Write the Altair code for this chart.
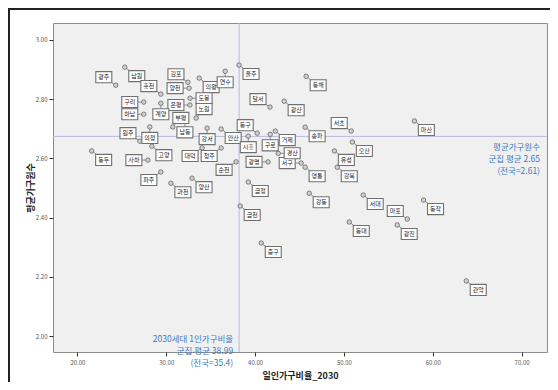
import altair as alt
import pandas as pd

# ---- data ----
names = ["광주", "남원", "홍천", "구리", "하남", "계양", "김포", "양천", "은평", "부평",
         "의왕", "도봉", "노원", "연수", "울주", "달서", "동해", "광산", "서초", "마산",
         "송파", "거제", "구로", "동구", "시흥", "안산", "강서", "남동", "대덕", "청주",
         "순천", "광명", "금정", "동두", "의정", "원주", "사하", "고양", "파주", "과천",
         "양산", "금천", "중구", "강동", "경산", "서구", "유성", "오산", "강북", "서대",
         "마포", "동작", "동대", "광진", "관악", "영통"]
one_person_ratio = [24.32, 25.33, 29.39, 27.47, 27.47, 29.39, 32.44, 32.57, 32.66, 30.74,
                    33.70, 32.68, 33.36, 36.63, 38.19, 41.68, 45.75, 43.27, 50.82, 57.93,
                    45.63, 42.27, 41.70, 40.24, 39.23, 36.18, 34.60, 32.10, 34.03, 36.18,
                    37.86, 41.46, 39.23, 21.60, 28.15, 27.04, 27.93, 28.38, 29.39, 30.52,
                    32.90, 38.32, 40.69, 46.09, 42.60, 45.19, 48.92, 50.95, 49.25, 52.17,
                    57.13, 58.96, 50.60, 56.00, 63.77, 45.63]
avg_household = [2.847, 2.908, 2.817, 2.790, 2.749, 2.786, 2.857, 2.837, 2.780, 2.706,
                 2.871, 2.803, 2.736, 2.894, 2.915, 2.773, 2.877, 2.793, 2.692, 2.726,
                 2.705, 2.692, 2.681, 2.685, 2.675, 2.699, 2.702, 2.725, 2.635, 2.635,
                 2.588, 2.588, 2.520, 2.625, 2.706, 2.658, 2.594, 2.641, 2.554, 2.516,
                 2.533, 2.439, 2.314, 2.482, 2.617, 2.584, 2.625, 2.655, 2.570, 2.476,
                 2.395, 2.459, 2.385, 2.375, 2.186, 2.570]

# which side of its point each label box sits on (as in the reference)
label_se = ["남원", "의왕", "울주", "동해", "광산", "마산", "송파", "거제", "안산", "금정",
            "동두", "고양", "과천", "양산", "금천", "중구", "강동", "유성", "오산", "강북",
            "서대", "동작", "동대", "광진", "관악", "영통"]
label_nw = ["광주", "홍천", "김포", "달서", "서초", "동구", "마포", "원주"]
label_w = ["구리", "하남", "양천", "은평", "광명", "사하", "서구"]
label_e = ["도봉", "경산"]
label_s = ["계양", "연수", "구로", "시흥", "강서", "남동", "의정"]
label_sw = ["대덕", "청주", "순천", "파주"]
label_ne = ["부평", "노원"]

mean_line_x = [38.2]
mean_line_y = [2.674]
annot_right = ["평균가구원수", "군집 평균 2.65", "(전국=2.61)"]
annot_bottom = ["2030세대 1인가구비율", "군집 평균 38.99", "(전국=35.4)"]
x_ticks = [20, 30, 40, 50, 60, 70]
y_ticks = [2.0, 2.2, 2.4, 2.6, 2.8, 3.0]
x_domain = [17.25, 72.86]
y_domain = [1.946, 3.057]

FONT = "Noto Sans CJK KR"

df = pd.DataFrame({"name": names, "x": one_person_ratio, "y": avg_household})

xs = alt.Scale(domain=x_domain, nice=False, zero=False)
ys = alt.Scale(domain=y_domain, nice=False, zero=False)

x_main = alt.X("x:Q", scale=xs, title="일인가구비율_2030",
               axis=alt.Axis(values=x_ticks, format=".2f", grid=False, domain=False,
                             tickSize=4, tickColor="#333", labelFontSize=6,
                             labelColor="#555", labelPadding=3, titleFontSize=9,
                             titleFontWeight="bold", titleColor="#222", titlePadding=6,
                             titleFont=FONT, labelFont=FONT))
y_main = alt.Y("y:Q", scale=ys, title="평균가구원수",
               axis=alt.Axis(values=y_ticks, format=".2f", grid=False, domain=False,
                             tickSize=4, tickColor="#333", labelFontSize=6,
                             labelColor="#555", labelPadding=2, titleFontSize=9,
                             titleFontWeight="bold", titleColor="#222", titlePadding=0,
                             titleFont=FONT, labelFont=FONT))
x_plain = alt.X("x:Q", scale=xs)
y_plain = alt.Y("y:Q", scale=ys)

base = alt.Chart(df)

# invisible layer that carries the axes
axes_layer = base.mark_point(opacity=0).encode(x=x_main, y=y_main)

points = base.mark_point(shape="circle", size=20, filled=True, fill="#d0d0d0",
                         stroke="#666", strokeWidth=0.8, opacity=1).encode(x=x_plain, y=y_plain)


def label_layers(group, dx, dy):
    sub = base.transform_filter(alt.FieldOneOfPredicate(field="name", oneOf=group))
    conn = sub.mark_rule(color="#777", strokeWidth=0.8,
                         x2Offset=dx * 0.55, y2Offset=dy * 0.55).encode(
        x=x_plain, y=y_plain, x2="x:Q", y2="y:Q")
    box = sub.mark_point(shape="M-1,-0.69L1,-0.69L1,0.69L-1,0.69Z", size=256, filled=True,
                         fill="white", stroke="#707070", strokeWidth=1.1, opacity=1,
                         xOffset=dx, yOffset=dy).encode(x=x_plain, y=y_plain)
    txt = sub.mark_text(font=FONT, fontSize=6, color="#222", dx=dx, dy=dy,
                        align="center", baseline="middle").encode(
        x=x_plain, y=y_plain, text="name:N")
    return [conn, box, txt]


groups = [(label_se, 12, 9), (label_nw, -12, -8), (label_w, -14, 0), (label_e, 14, 0),
          (label_s, 0, 11), (label_sw, -12, 8), (label_ne, 8, -9)]
conns, boxes, texts = [], [], []
for g, dx, dy in groups:
    c, b, t = label_layers(g, dx, dy)
    conns.append(c)
    boxes.append(b)
    texts.append(t)

vline = alt.Chart(pd.DataFrame({"x": mean_line_x})).mark_rule(
    color="#b9b9dc", strokeWidth=1).encode(x=x_plain)
hline = alt.Chart(pd.DataFrame({"y": mean_line_y})).mark_rule(
    color="#b9b9dc", strokeWidth=1).encode(y=y_plain)

ann_r = alt.Chart(pd.DataFrame({"x": [x_domain[1]], "y": mean_line_y,
                                "t": ["\n".join(annot_right)]})).mark_text(
    font=FONT, fontSize=8.5, color="#3a7cc4", align="right", baseline="top",
    lineBreak="\n", lineHeight=12, dx=-7, dy=7).encode(x=x_plain, y=y_plain, text="t:N")

ann_b = alt.Chart(pd.DataFrame({"x": mean_line_x, "y": [y_domain[0]],
                                "t": ["\n".join(annot_bottom)]})).mark_text(
    font=FONT, fontSize=8.5, color="#3a7cc4", align="right", baseline="bottom",
    lineBreak="\n", lineHeight=12, dx=-6, dy=-8).encode(x=x_plain, y=y_plain, text="t:N")

frame_df = pd.DataFrame({"k": [0]})
frame_left = alt.Chart(frame_df).mark_rule(color="#222", strokeWidth=2).encode(
    x=alt.value(-44), y=alt.value(-14), y2=alt.value(359))
frame_top = alt.Chart(frame_df).mark_rule(color="#222", strokeWidth=2).encode(
    y=alt.value(-14), x=alt.value(-45), x2=alt.value(497))

chart = alt.layer(axes_layer, vline, hline, *conns, points, *boxes, *texts, ann_r, ann_b,
                  frame_left, frame_top).properties(
    width=494, height=329,
    autosize=alt.AutoSizeParams(type="none"),
    padding={"left": 45, "top": 15, "right": 3, "bottom": 30},
    background="white",
).configure_view(fill="#f0f0f0", stroke="#8c8c8c", strokeWidth=1)

chart.save("out.html", embed_options={"renderer": "svg", "actions": False})
